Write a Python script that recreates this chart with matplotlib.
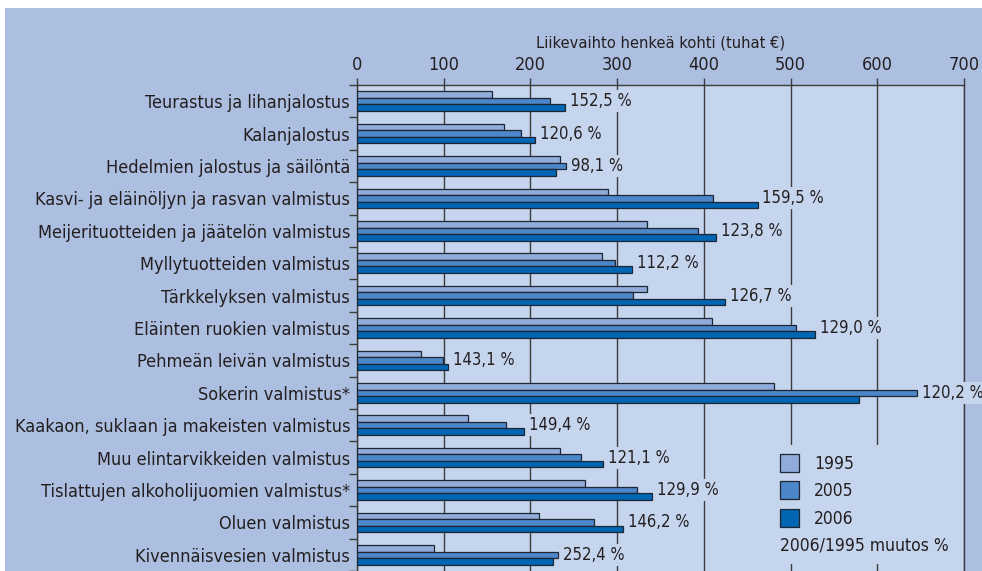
import matplotlib
matplotlib.use("Agg")
import matplotlib.pyplot as plt
from matplotlib.patches import Rectangle, Patch
import numpy as np

plt.rcParams['font.family'] = ['DejaVu Sans']
plt.rcParams['font.stretch'] = 'condensed'

categories = [
    "Teurastus ja lihanjalostus",
    "Kalanjalostus",
    "Hedelmien jalostus ja säilöntä",
    "Kasvi- ja eläinöljyn ja rasvan valmistus",
    "Meijerituotteiden ja jäätelön valmistus",
    "Myllytuotteiden valmistus",
    "Tärkkelyksen valmistus",
    "Eläinten ruokien valmistus",
    "Pehmeän leivän valmistus",
    "Sokerin valmistus*",
    "Kaakaon, suklaan ja makeisten valmistus",
    "Muu elintarvikkeiden valmistus",
    "Tislattujen alkoholijuomien valmistus*",
    "Oluen valmistus",
    "Kivennäisvesien valmistus",
]
v1995 = [156, 170, 234, 290, 334, 282, 335, 409, 74, 481, 128, 234, 263, 210, 89]
v2005 = [223, 189, 241, 410, 393, 298, 318, 506, 99, 646, 172, 258, 323, 273, 232]
v2006 = [240, 205, 230, 462, 414, 317, 424, 528, 105, 579, 193, 284, 340, 307, 226]
change_labels = ["152,5 %", "120,6 %", "98,1 %", "159,5 %", "123,8 %", "112,2 %", "126,7 %",
                 "129,0 %", "143,1 %", "120,2 %", "149,4 %", "121,1 %", "129,9 %", "146,2 %", "252,4 %"]
series_names = ["1995", "2005", "2006"]
xticks = [0, 100, 200, 300, 400, 500, 600, 700]

c_fig = "#adbfe0"
c_ax = "#c6d5ee"
c_bars = ["#91acdb", "#4b87c9", "#0066b3"]
c_edge = "#1f2633"
c_text = "#231f20"
c_grid = "#3c3c3c"

W, H = 982, 571
fig = plt.figure(figsize=(W / 100, H / 100), dpi=100, facecolor="white")
fig.patches.append(Rectangle((5 / W, 0), 1, 1 - 8 / H, transform=fig.transFigure,
                             facecolor=c_fig, edgecolor="none", zorder=-10))

ax_l, ax_r, ax_t, ax_b = 357, 964, 85, 571
ax = fig.add_axes([ax_l / W, 1 - ax_b / H, (ax_r - ax_l) / W, (ax_b - ax_t) / H])
ax.set_facecolor(c_ax)

n = len(categories)
y = np.arange(n)
h = 0.2
for vals, off, col, name in zip([v1995, v2005, v2006], [-h, 0, h], c_bars, series_names):
    ax.barh(y + off, vals, height=h, color=col, edgecolor=c_edge, linewidth=0.9,
            zorder=3, label=name)

for i, lab in enumerate(change_labels):
    mx = max(v1995[i], v2005[i], v2006[i])
    ax.annotate(lab, xy=(mx, y[i]), xytext=(3.5, 0), textcoords="offset points",
                ha="left", va="center", fontsize=12, color=c_text, zorder=5,
                annotation_clip=False, clip_on=False,
                bbox=dict(boxstyle="square,pad=0.12", facecolor=c_ax, edgecolor="none"))

ax.set_xlim(0, 700)
ax.set_ylim(n - 0.5, -0.5)
ax.xaxis.tick_top()
ax.xaxis.set_label_position("top")
ax.set_xticks(xticks)
ax.set_xticklabels([str(t) for t in xticks])
ax.set_xlabel("Liikevaihto henkeä kohti (tuhat €)", fontsize=11.8, color=c_text, labelpad=6)
ax.tick_params(axis="x", which="major", direction="out", length=5, width=1, color=c_grid,
               labelsize=13, labelcolor=c_text, pad=3)
ax.grid(axis="x", color=c_grid, linewidth=1.0, zorder=1)
ax.set_axisbelow(True)

ax.set_yticks(y)
ax.set_yticklabels(categories)
ax.set_yticks(np.arange(n + 1) - 0.5, minor=True)
ax.tick_params(axis="y", which="major", length=0, labelsize=13, labelcolor=c_text, pad=5)
ax.tick_params(axis="y", which="minor", direction="out", length=6, width=1, color=c_grid)

for s in ["bottom"]:
    ax.spines[s].set_visible(False)
for s in ["top", "left", "right"]:
    ax.spines[s].set_color(c_grid)
    ax.spines[s].set_linewidth(1.0)

# legend background covering grid lines
ax.add_patch(Rectangle(((760 - ax_l) / (ax_r - ax_l), (ax_b - 564) / (ax_b - ax_t)),
                       (962 - 760) / (ax_r - ax_l), (564 - 445) / (ax_b - ax_t),
                       transform=ax.transAxes, facecolor=c_ax, edgecolor="none", zorder=4))
handles = [Patch(facecolor=c, edgecolor=c_edge, linewidth=0.9) for c in c_bars]
leg = ax.legend(handles, series_names, loc="upper left",
                bbox_to_anchor=((780 - ax_l) / (ax_r - ax_l), (ax_b - 454) / (ax_b - ax_t)),
                frameon=False, fontsize=12.5, handlelength=1.1, handleheight=1.2,
                handletextpad=0.85, labelspacing=0.5, borderpad=0, borderaxespad=0)
leg.set_zorder(6)
for t in leg.get_texts():
    t.set_color(c_text)
ax.text((780 - ax_l) / (ax_r - ax_l), (ax_b - 545) / (ax_b - ax_t), "2006/1995 muutos %",
        transform=ax.transAxes, ha="left", va="center", fontsize=12.5, color=c_text, zorder=6)

fig.savefig("out.png", dpi=100, facecolor="white")
